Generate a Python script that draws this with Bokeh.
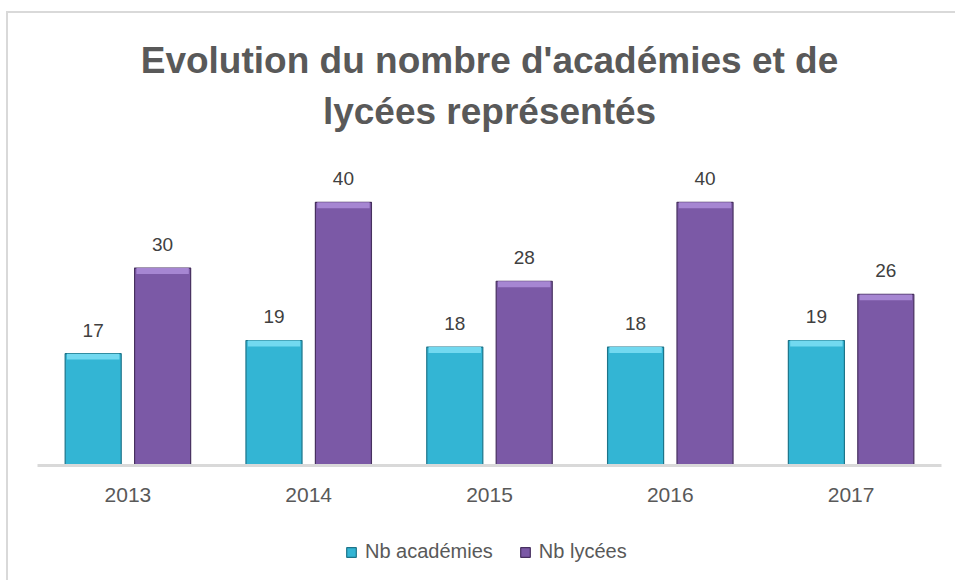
from bokeh.plotting import figure
from bokeh.models import (ColumnDataSource, FactorRange, Range1d, LabelSet, Legend,
                          LegendItem, Title)
from bokeh.core.properties import value
from bokeh.layouts import column
from bokeh.transform import dodge
from bokeh.embed import file_html
from bokeh.resources import INLINE

years = ["2013", "2014", "2015", "2016", "2017"]
nb_academies = [17, 19, 18, 18, 19]
nb_lycees = [30, 40, 28, 40, 26]
series_names = ["Nb académies", "Nb lycées"]
title_line1 = "Evolution du nombre d'académies et de"
title_line2 = "lycées représentés"

ACAD_FILL, ACAD_LINE, ACAD_HL = "#33b5d4", "#1d7489", "#72d9f0"
LYC_FILL, LYC_LINE, LYC_HL = "#7b59a6", "#47305f", "#a686d2"
FONT = "Liberation Sans"

src = ColumnDataSource(dict(
    year=years,
    acad=nb_academies,
    lyc=nb_lycees,
    acad_txt=[str(v) for v in nb_academies],
    lyc_txt=[str(v) for v in nb_lycees],
    acad_hl=[v - 0.9 for v in nb_academies],
    lyc_hl=[v - 0.9 for v in nb_lycees],
))

p = figure(width=947, height=507, x_range=FactorRange(*years, range_padding=0),
           y_range=Range1d(0, 50), output_backend="svg", toolbar_location=None,
           y_axis_location=None, min_border_left=29, min_border_right=14,
           min_border_top=123, min_border_bottom=55)
p.outline_line_color = None
p.xgrid.visible = False
p.ygrid.visible = False
p.background_fill_color = "white"
p.border_fill_color = "white"

def style_title(t, standoff):
    t.align = "center"
    t.text_font = FONT
    t.text_font_size = "37px"
    t.text_font_style = "bold"
    t.text_color = "#595959"
    t.standoff = standoff

p.title.text = title_line1
style_title(p.title, 5)
t2 = Title(text=title_line2)
style_title(t2, 10)
t2.offset = 0
p.add_layout(t2, "above")

off = 0.192
w = 0.31
r1 = p.vbar(x=dodge("year", -off, range=p.x_range), top="acad", width=w, source=src,
            fill_color=ACAD_FILL, line_color=ACAD_LINE, line_width=1.2)
p.vbar(x=dodge("year", -off, range=p.x_range), top="acad", bottom="acad_hl", width=w - 0.02,
       source=src, fill_color=ACAD_HL, line_color=None)
r2 = p.vbar(x=dodge("year", off, range=p.x_range), top="lyc", width=w, source=src,
            fill_color=LYC_FILL, line_color=LYC_LINE, line_width=1.2)
p.vbar(x=dodge("year", off, range=p.x_range), top="lyc", bottom="lyc_hl", width=w - 0.02,
       source=src, fill_color=LYC_HL, line_color=None)

for col, txt, d in (("acad", "acad_txt", -off), ("lyc", "lyc_txt", off)):
    p.add_layout(LabelSet(x=dodge("year", d, range=p.x_range), y=col, text=txt, source=src,
                          text_align="center", text_baseline="bottom", y_offset=17,
                          text_font=value(FONT), text_font_size=value("19px"),
                          text_color="#404040"))

ax = p.xaxis[0]
ax.axis_line_color = "#d9d9d9"
ax.axis_line_width = 3
ax.major_tick_line_color = None
ax.minor_tick_line_color = None
ax.major_label_standoff = 16
ax.major_label_text_font = FONT
ax.major_label_text_font_size = "21px"
ax.major_label_text_color = "#595959"

# legend strip below the chart
leg = figure(width=947, height=60, x_range=Range1d(0, 1), y_range=Range1d(0, 1),
             output_backend="svg", toolbar_location=None, x_axis_location=None,
             y_axis_location=None, min_border=0)
leg.outline_line_color = None
leg.xgrid.visible = False
leg.ygrid.visible = False
lsrc = ColumnDataSource(dict(year=years, acad=nb_academies, lyc=nb_lycees))
lr1 = leg.vbar(x=0, top="acad", width=0.1, source=lsrc, fill_color=ACAD_FILL,
               line_color=ACAD_LINE, line_width=1.2, visible=False)
lr2 = leg.vbar(x=0, top="lyc", width=0.1, source=lsrc, fill_color=LYC_FILL,
               line_color=LYC_LINE, line_width=1.2, visible=False)
legend = Legend(items=[LegendItem(label=series_names[0], renderers=[lr1]),
                       LegendItem(label=series_names[1], renderers=[lr2])],
                orientation="horizontal", location=(308, 17),
                glyph_width=12, glyph_height=12, label_standoff=8, spacing=26,
                label_text_font=FONT, label_text_font_size="20px",
                label_text_color="#595959", border_line_color=None,
                background_fill_alpha=0, padding=4, margin=0)
leg.add_layout(legend, "center")

layout = column(p, leg, spacing=0, margin=(11, 0, 0, 6),
                styles={"border-top": "2px solid #d9d9d9", "border-left": "2px solid #d9d9d9",
                        "background-color": "white"})

open("out.html", "w").write(file_html(layout, INLINE))
